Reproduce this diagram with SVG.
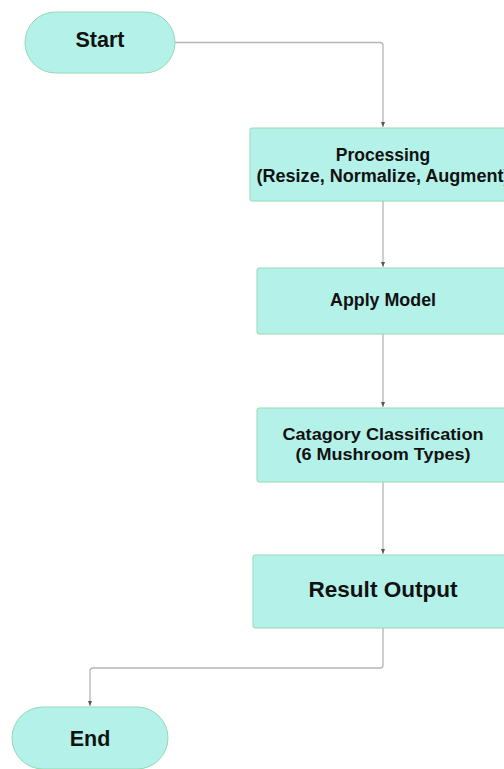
<svg xmlns="http://www.w3.org/2000/svg" width="504" height="769" viewBox="0 0 504 769">
<defs>
<style>
.node{fill:#b4f2e9;stroke:#95d9b0;stroke-width:1}
.t{font-family:"Liberation Sans",Arial,sans-serif;font-weight:bold;fill:#111;text-anchor:middle}
.edge{fill:none;stroke:#b5b5b5;stroke-width:1.3}
</style>
<marker id="ah" markerWidth="6" markerHeight="6" refX="5" refY="3" orient="auto" markerUnits="userSpaceOnUse">
<path d="M0,1 L5,3 L0,5 Z" fill="#555"/>
</marker>
</defs>
<rect width="504" height="769" fill="#fff"/>
<g id="edges">
<path class="edge" d="M175,42.5 H380 Q383,42.5 383,45.5 V127" marker-end="url(#ah)"/>
<path class="edge" d="M383,201 V267" marker-end="url(#ah)"/>
<path class="edge" d="M383,334 V407" marker-end="url(#ah)"/>
<path class="edge" d="M383,482 V554" marker-end="url(#ah)"/>
<path class="edge" d="M383,628 V665 Q383,668 380,668 H93 Q90,668 90,671 V706" marker-end="url(#ah)"/>
</g>
<g id="start">
<rect class="node" x="25" y="12" width="150" height="61" rx="30.5"/>
<text class="t" x="100" y="47" font-size="21.5">Start</text>
</g>
<g id="processing">
<rect class="node" x="250" y="128" width="266" height="73" rx="2"/>
<text class="t" x="383" y="160.5" font-size="17.5">Processing</text>
<text class="t" x="383" y="181.5" font-size="17.5" textLength="253" lengthAdjust="spacingAndGlyphs">(Resize, Normalize, Augment)</text>
</g>
<g id="apply">
<rect class="node" x="257" y="268" width="252" height="66" rx="2"/>
<text class="t" x="383" y="306" font-size="18" textLength="106" lengthAdjust="spacingAndGlyphs">Apply Model</text>
</g>
<g id="classify">
<rect class="node" x="257" y="408" width="252" height="74" rx="2"/>
<text class="t" x="383" y="440" font-size="17" textLength="201" lengthAdjust="spacingAndGlyphs">Catagory Classification</text>
<text class="t" x="383" y="460" font-size="17" textLength="175" lengthAdjust="spacingAndGlyphs">(6 Mushroom Types)</text>
</g>
<g id="result">
<rect class="node" x="253" y="555" width="260" height="73" rx="2"/>
<text class="t" x="383" y="596.5" font-size="21.5" textLength="149" lengthAdjust="spacingAndGlyphs">Result Output</text>
</g>
<g id="end">
<rect class="node" x="12" y="707" width="156" height="62" rx="31"/>
<text class="t" x="90" y="746" font-size="21.5">End</text>
</g>
</svg>
